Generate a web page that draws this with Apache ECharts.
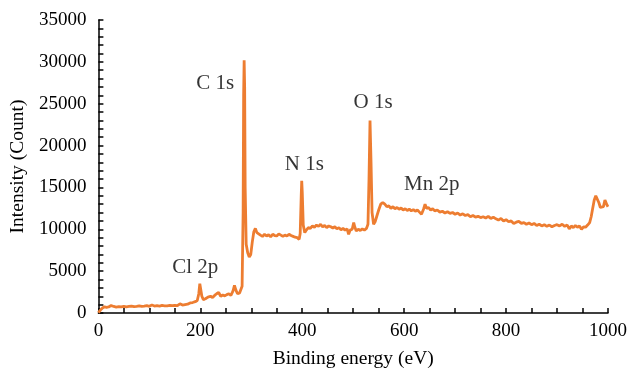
<!DOCTYPE html>
<html>
<head>
<meta charset="utf-8">
<script src="https://cdn.jsdelivr.net/npm/echarts@6/dist/echarts.min.js"></script>
<style>
  html, body { margin: 0; padding: 0; background: #fff; }
  #chart { width: 630px; height: 374px; }
</style>
</head>
<body>
<div id="chart"></div>
<script>
// binding energy (eV) and intensity (counts)
const energy = [0, 4, 8, 12, 16, 20, 25, 30, 35, 40, 45, 50, 55, 60, 65, 70, 75, 80, 85, 90, 95, 100, 105, 110, 115, 120, 125, 130, 135, 140, 145, 150, 155, 160, 165, 170, 175, 180, 185, 190, 194, 197, 199, 201, 203, 206, 210, 215, 220, 224, 228, 232, 236, 240, 244, 248, 252, 256, 260, 264, 267, 270, 273, 277, 280, 282, 284, 285, 286, 287, 288, 290, 293, 296, 299, 302, 305, 308, 311, 314, 318, 322, 326, 330, 334, 338, 342, 346, 350, 354, 358, 362, 366, 370, 374, 378, 382, 386, 390, 394, 396, 398, 399, 400, 402, 405, 408, 412, 416, 420, 424, 428, 432, 436, 440, 444, 448, 452, 456, 460, 464, 468, 472, 476, 480, 484, 488, 491, 494, 498, 501, 503, 506, 510, 514, 518, 522, 526, 529, 531, 533, 535, 537, 540, 543, 546, 550, 554, 558, 562, 566, 570, 574, 578, 582, 586, 590, 594, 598, 602, 606, 610, 614, 618, 622, 626, 630, 634, 638, 641, 644, 648, 652, 656, 660, 665, 670, 675, 680, 685, 690, 695, 700, 705, 710, 715, 720, 725, 730, 735, 740, 745, 750, 755, 760, 765, 770, 775, 780, 785, 790, 795, 800, 805, 810, 815, 820, 825, 830, 835, 840, 845, 850, 855, 860, 865, 870, 875, 880, 885, 890, 895, 900, 905, 910, 915, 920, 924, 928, 932, 936, 940, 944, 948, 952, 956, 960, 964, 967, 970, 973, 976, 979, 982, 985, 988, 991, 994, 996, 998, 1000];
const counts = [50, 350, 600, 750, 680, 720, 900, 780, 700, 760, 720, 800, 740, 780, 820, 760, 800, 850, 780, 820, 880, 800, 950, 830, 870, 820, 900, 860, 840, 900, 870, 920, 880, 1100, 950, 1000, 1050, 1200, 1250, 1350, 1500, 2300, 3500, 3300, 2000, 1600, 1700, 1900, 2000, 1850, 2100, 2300, 2450, 2000, 2150, 2050, 2200, 2300, 2100, 2600, 3300, 2700, 2300, 2400, 2600, 3200, 12000, 26000, 30200, 27000, 15000, 8200, 7200, 6700, 7000, 8500, 9700, 10100, 9600, 9400, 9300, 9150, 9400, 9200, 9350, 9100, 9400, 9250, 9200, 9450, 9300, 9150, 9300, 9200, 9400, 9250, 9150, 9050, 9000, 8800, 9500, 14000, 15800, 14500, 10500, 9600, 9900, 10200, 10100, 10400, 10250, 10500, 10350, 10600, 10300, 10450, 10200, 10400, 10300, 10150, 10300, 10050, 10200, 9950, 10100, 9900, 10050, 9400, 9900, 10000, 10800, 10300, 9800, 10000, 9850, 10050, 9900, 10100, 10600, 16000, 23000, 18000, 12000, 10600, 10900, 11500, 12300, 13000, 13200, 13000, 12700, 12800, 12500, 12700, 12450, 12600, 12400, 12550, 12300, 12450, 12250, 12400, 12200, 12350, 12150, 12300, 12050, 11800, 12400, 13000, 12500, 12600, 12300, 12450, 12200, 12300, 12050, 12150, 11950, 12100, 11900, 12000, 11800, 11950, 11700, 11850, 11650, 11750, 11500, 11650, 11450, 11550, 11400, 11500, 11350, 11550, 11300, 11450, 11250, 11100, 11300, 11000, 11150, 10900, 11000, 10700, 10850, 10950, 10700, 10800, 10600, 10750, 10550, 10700, 10450, 10600, 10400, 10550, 10350, 10500, 10300, 10450, 10550, 10400, 10600, 10350, 10500, 10050, 10400, 10200, 10450, 10250, 10400, 10000, 10300, 10250, 10500, 10800, 11500, 12500, 13500, 14000, 13900, 13200, 12600, 12500, 12700, 13500, 13200, 12900, 12700];

// peak labels and where they sit (eV, counts)
const peakNames = ['Cl 2p', 'C 1s', 'N 1s', 'O 1s', 'Mn 2p'];
const peakLabelX = [190, 229, 404, 539, 654];
const peakLabelY = [5450, 27400, 17700, 25200, 15400];

const font = 'Liberation Serif, Times New Roman, serif';

const chart = echarts.init(document.getElementById('chart'));
chart.setOption({
  animation: false,
  grid: { left: 98, right: 22, top: 20, bottom: 58 },
  xAxis: {
    type: 'value',
    min: 0,
    max: 1000,
    interval: 200,
    name: 'Binding energy (eV)',
    nameLocation: 'middle',
    nameGap: 36,
    nameTextStyle: { fontFamily: font, fontSize: 19.5, color: '#000' },
    axisLine: { lineStyle: { color: '#000', width: 1.5 } },
    axisTick: { inside: true, length: 5, lineStyle: { color: '#000', width: 1.5 } },
    minorTick: { show: true, splitNumber: 4, length: 5, lineStyle: { color: '#000', width: 1.5 } },
    axisLabel: { fontFamily: font, fontSize: 19, color: '#000', margin: 9, formatter: v => String(v) },
    splitLine: { show: false }
  },
  yAxis: {
    type: 'value',
    min: 0,
    max: 35000,
    interval: 5000,
    name: 'Intensity (Count)',
    nameLocation: 'middle',
    nameGap: 70,
    nameTextStyle: { fontFamily: font, fontSize: 19.5, color: '#000' },
    axisLine: { show: true, lineStyle: { color: '#000', width: 1.5 } },
    axisTick: { show: true, inside: true, length: 5, lineStyle: { color: '#000', width: 1.5 } },
    minorTick: { show: true, splitNumber: 5, length: 5, lineStyle: { color: '#000', width: 1.5 } },
    axisLabel: { fontFamily: font, fontSize: 19, color: '#000', margin: 12, formatter: v => String(v) },
    splitLine: { show: false }
  },
  series: [
    {
      type: 'line',
      data: energy.map((e, i) => [e, counts[i]]),
      showSymbol: false,
      lineStyle: { color: '#ED7D31', width: 2.8 },
      itemStyle: { color: '#ED7D31' }
    },
    {
      type: 'scatter',
      data: peakNames.map((n, i) => ({ name: n, value: [peakLabelX[i], peakLabelY[i]] })),
      symbolSize: 0,
      silent: true,
      label: {
        show: true,
        position: 'inside',
        formatter: p => p.name,
        fontFamily: font,
        fontSize: 21,
        color: '#000'
      }
    }
  ]
});
</script>
</body>
</html>
